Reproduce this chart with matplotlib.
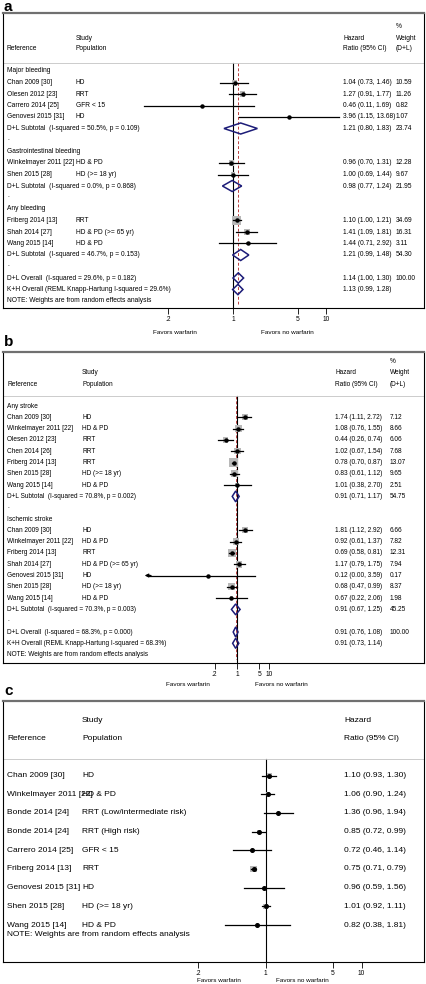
import numpy as np
import matplotlib.pyplot as plt
from matplotlib.patches import Rectangle, Polygon

plt.rcParams['font.family'] = ['Liberation Sans', 'DejaVu Sans']

# ---------------- panel a: bleeding
a_groups = ['Major bleeding', 'Gastrointestinal bleeding', 'Any bleeding']
a_ref = [['Chan 2009 [30]', 'Olesen 2012 [23]', 'Carrero 2014 [25]', 'Genovesi 2015 [31]'],
         ['Winkelmayer 2011 [22]', 'Shen 2015 [28]'],
         ['Friberg 2014 [13]', 'Shah 2014 [27]', 'Wang 2015 [14]']]
a_pop = [['HD', 'RRT', 'GFR < 15', 'HD'],
         ['HD & PD', 'HD (>= 18 yr)'],
         ['RRT', 'HD & PD (>= 65 yr)', 'HD & PD']]
a_hr = [[1.04, 1.27, 0.46, 3.96], [0.96, 1.00], [1.10, 1.41, 1.44]]
a_lo = [[0.73, 0.91, 0.11, 1.15], [0.70, 0.69], [1.00, 1.09, 0.71]]
a_hi = [[1.46, 1.77, 1.69, 13.68], [1.31, 1.44], [1.21, 1.81, 2.92]]
a_w = [[10.59, 11.26, 0.82, 1.07], [12.28, 9.67], [34.69, 16.31, 3.11]]
a_sub_hr = [1.21, 0.98, 1.21]
a_sub_lo = [0.80, 0.77, 0.99]
a_sub_hi = [1.83, 1.24, 1.48]
a_sub_w = [23.74, 21.95, 54.30]
a_sub_i2 = [50.5, 0.0, 46.7]
a_sub_p = [0.109, 0.868, 0.153]
a_all = [1.14, 1.00, 1.30, 100.00, 29.6, 0.182]
a_kh = [1.13, 0.99, 1.28, 29.6]

# ---------------- panel b: stroke
b_groups = ['Any stroke', 'Ischemic stroke']
b_ref = [['Chan 2009 [30]', 'Winkelmayer 2011 [22]', 'Olesen 2012 [23]', 'Chen 2014 [26]',
          'Friberg 2014 [13]', 'Shen 2015 [28]', 'Wang 2015 [14]'],
         ['Chan 2009 [30]', 'Winkelmayer 2011 [22]', 'Friberg 2014 [13]', 'Shah 2014 [27]',
          'Genovesi 2015 [31]', 'Shen 2015 [28]', 'Wang 2015 [14]']]
b_pop = [['HD', 'HD & PD', 'RRT', 'RRT', 'RRT', 'HD (>= 18 yr)', 'HD & PD'],
         ['HD', 'HD & PD', 'RRT', 'HD & PD (>= 65 yr)', 'HD', 'HD (>= 18 yr)', 'HD & PD']]
b_hr = [[1.74, 1.08, 0.44, 1.02, 0.78, 0.83, 1.01], [1.81, 0.92, 0.69, 1.17, 0.12, 0.68, 0.67]]
b_lo = [[1.11, 0.76, 0.26, 0.67, 0.70, 0.61, 0.38], [1.12, 0.61, 0.58, 0.79, 0.00, 0.47, 0.22]]
b_hi = [[2.72, 1.55, 0.74, 1.54, 0.87, 1.12, 2.70], [2.92, 1.37, 0.81, 1.75, 3.59, 0.99, 2.06]]
b_w = [[7.12, 8.66, 6.06, 7.68, 13.07, 9.65, 2.51], [6.66, 7.82, 12.31, 7.94, 0.17, 8.37, 1.98]]
b_sub_hr = [0.91, 0.91]
b_sub_lo = [0.71, 0.67]
b_sub_hi = [1.17, 1.25]
b_sub_w = [54.75, 45.25]
b_sub_i2 = [70.8, 70.3]
b_sub_p = [0.002, 0.003]
b_all = [0.91, 0.76, 1.08, 100.00, 68.3, 0.000]
b_kh = [0.91, 0.73, 1.14, 68.3]
b_axis_min = 0.0013

# ---------------- panel c: mortality
c_ref = ['Chan 2009 [30]', 'Winkelmayer 2011 [22]', 'Bonde 2014 [24]', 'Bonde 2014 [24]',
         'Carrero 2014 [25]', 'Friberg 2014 [13]', 'Genovesi 2015 [31]', 'Shen 2015 [28]',
         'Wang 2015 [14]']
c_pop = ['HD', 'HD & PD', 'RRT (Low/intermediate risk)', 'RRT (High risk)', 'GFR < 15', 'RRT',
         'HD', 'HD (>= 18 yr)', 'HD & PD']
c_hr = [1.10, 1.06, 1.36, 0.85, 0.72, 0.75, 0.96, 1.01, 0.82]
c_lo = [0.93, 0.90, 0.96, 0.72, 0.46, 0.71, 0.59, 0.92, 0.38]
c_hi = [1.30, 1.24, 1.94, 0.99, 1.14, 0.79, 1.56, 1.11, 1.81]
c_w = [14, 14, 6, 14, 4, 30, 4, 22, 3]   # relative box weights

ticks = [0.2, 1, 5, 10]
tick_labels = ['.2', '1', '5', '10']
note = 'NOTE: Weights are from random effects analysis'

W, H = 426, 984
fig = plt.figure(figsize=(W / 100, H / 100), dpi=100)
NAVY = '#1c1c78'
GREY = '#b8b8b8'


def setup(top, bottom, x1, dec, first, step, head_line):
    ax = fig.add_axes([3 / W, 1 - bottom / H, 421 / W, (bottom - top) / H])
    ax.set_xlim((3 - x1) / dec, (424 - x1) / dec)
    ax.set_ylim((bottom - first) / step, (top - first) / step)
    ax.set_yticks([])
    for s in ['left', 'right', 'bottom']:
        ax.spines[s].set_linewidth(0.8)
    ax.spines['top'].set_color('#707070')
    ax.spines['top'].set_linewidth(1.6)
    ax.set_xticks(np.log10(ticks))
    ax.set_xticklabels(tick_labels)
    ax.tick_params(axis='x', direction='out', length=4, width=0.6, labelsize=4.8, pad=1.8)
    fx = lambda px: (px - x1) / dec
    fy = lambda py: (py - first) / step
    ax.axhline(fy(head_line), color='#c4c4c4', lw=0.6)
    ax.plot([0, 0], [fy(head_line), (bottom - first) / step], color='black', lw=0.8, zorder=1)
    return ax, fx, fy


def box_mark(ax, y, hr, lo, hi, w, k, dec, step, ms=2.2, lo_clip=None):
    side = k * np.sqrt(w)
    x = np.log10(hr)
    ax.add_patch(Rectangle((x - side / 2 / dec, y - side / 2 / step), side / dec, side / step,
                           fc=GREY, ec='none', zorder=2))
    xh = np.log10(hi)
    if lo_clip is not None and lo < lo_clip:
        xl = np.log10(lo_clip)
        ax.plot([xl + 0.12, xh], [y, y], color='black', lw=0.9, zorder=3)
        ax.annotate('', xy=(xl, y), xytext=(xl + 0.2, y),
                    arrowprops=dict(arrowstyle='-|>', color='black', lw=0.9,
                                    mutation_scale=5, shrinkA=0, shrinkB=0), zorder=3)
    else:
        ax.plot([np.log10(lo), xh], [y, y], color='black', lw=0.9, zorder=3)
    ax.plot(x, y, 'o', ms=ms, color='black', zorder=4)


def diamond(ax, y, hr, lo, hi, h):
    pts = [[np.log10(lo), y], [np.log10(hr), y - h], [np.log10(hi), y], [np.log10(hr), y + h]]
    ax.add_patch(Polygon(pts, closed=True, fc='none', ec=NAVY, lw=1.1, zorder=4))


def ci_txt(hr, lo, hi):
    return f'{hr:.2f} ({lo:.2f}, {hi:.2f})'


def pooled_panel(geo, groups, ref, pop, hr, lo, hi, w, s_hr, s_lo, s_hi, s_w, s_i2, s_p,
                 allv, kh, lo_clip=None):
    top, bottom, x1, dec, first, step, head_line, heads, cols, fs, k = geo
    ax, fx, fy = setup(top, bottom, x1, dec, first, step, head_line)
    c_ref, c_pop, c_hr, c_w = [fx(c) for c in cols]
    kw = dict(fontsize=fs, va='center', ha='left')
    # header
    ax.text(c_w, fy(heads[0]), '%', **kw)
    ax.text(c_pop, fy(heads[1]), 'Study', **kw)
    ax.text(c_hr, fy(heads[1]), 'Hazard', **kw)
    ax.text(c_w, fy(heads[1]), 'Weight', **kw)
    ax.text(c_ref, fy(heads[2]), 'Reference', **kw)
    ax.text(c_pop, fy(heads[2]), 'Population', **kw)
    ax.text(c_hr, fy(heads[2]), 'Ratio (95% CI)', **kw)
    ax.text(c_w, fy(heads[2]), '(D+L)', **kw)
    row = 0
    for g in range(len(groups)):
        ax.text(c_ref, row, groups[g], **kw)
        row += 1
        for i in range(len(ref[g])):
            ax.text(c_ref, row, ref[g][i], **kw)
            ax.text(c_pop, row, pop[g][i], **kw)
            ax.text(c_hr, row, ci_txt(hr[g][i], lo[g][i], hi[g][i]), **kw)
            ax.text(c_w, row, f'{w[g][i]:.2f}', **kw)
            box_mark(ax, row, hr[g][i], lo[g][i], hi[g][i], w[g][i], k, dec, step, lo_clip=lo_clip)
            row += 1
        ax.text(c_ref, row, f'D+L Subtotal  (I-squared = {s_i2[g]:.1f}%, p = {s_p[g]:.3f})', **kw)
        ax.text(c_hr, row, ci_txt(s_hr[g], s_lo[g], s_hi[g]), **kw)
        ax.text(c_w, row, f'{s_w[g]:.2f}', **kw)
        diamond(ax, row, s_hr[g], s_lo[g], s_hi[g], 0.48)
        row += 1
        ax.text(c_ref, row - 0.15, '.', **kw)
        row += 1
    ax.text(c_ref, row, f'D+L Overall  (I-squared = {allv[4]:.1f}%, p = {allv[5]:.3f})', **kw)
    ax.text(c_hr, row, ci_txt(allv[0], allv[1], allv[2]), **kw)
    ax.text(c_w, row, f'{allv[3]:.2f}', **kw)
    diamond(ax, row, allv[0], allv[1], allv[2], 0.45)
    row += 1
    ax.text(c_ref, row, f'K+H Overall (REML Knapp-Hartung I-squared = {kh[3]:.1f}%)', **kw)
    ax.text(c_hr, row, ci_txt(kh[0], kh[1], kh[2]), **kw)
    diamond(ax, row, kh[0], kh[1], kh[2], 0.45)
    row += 1
    ax.text(c_ref, row, note, **kw)
    ax.plot([np.log10(allv[0])] * 2, [fy(head_line), fy(bottom - 4)], color='#b84040',
            lw=0.7, ls=(0, (3, 2)), zorder=1)
    return ax


def fig_text(x, y, s, **kw):
    fig.text(x / W, 1 - y / H, s, **kw)


# panel a
geo_a = (13, 308, 233, 93, 71, 11.5, 63, (27, 38, 49), (7, 76, 343, 396), 4.8, 1.55)
pooled_panel(geo_a, a_groups, a_ref, a_pop, a_hr, a_lo, a_hi, a_w, a_sub_hr, a_sub_lo, a_sub_hi,
             a_sub_w, a_sub_i2, a_sub_p, a_all, a_kh)
fig_text(4, 11, 'a', fontsize=11, fontweight='bold', va='baseline')
fig_text(175, 332, 'Favors warfarin', fontsize=4.6, ha='center', va='center')
fig_text(261, 332, 'Favors no warfarin', fontsize=4.6, ha='left', va='center')

# panel b
geo_b = (352, 663, 237, 32, 406, 11.3, 396, (361, 372, 384), (7, 82, 335, 390), 4.7, 2.35)
pooled_panel(geo_b, b_groups, b_ref, b_pop, b_hr, b_lo, b_hi, b_w, b_sub_hr, b_sub_lo, b_sub_hi,
             b_sub_w, b_sub_i2, b_sub_p, b_all, b_kh, lo_clip=b_axis_min)
fig_text(4, 346, 'b', fontsize=11, fontweight='bold', va='baseline')
fig_text(188, 685, 'Favors warfarin', fontsize=4.6, ha='center', va='center')
fig_text(255, 685, 'Favors no warfarin', fontsize=4.6, ha='left', va='center')

# panel c
top, bottom, x1, dec, first, step, head_line = 701, 962, 265.5, 96, 775.5, 18.7, 759
ax, fx, fy = setup(top, bottom, x1, dec, first, step, head_line)
kw = dict(fontsize=6.0, va='center', ha='left')
ax.text(fx(82), fy(721), 'Study', **kw)
ax.text(fx(344), fy(721), 'Hazard', **kw)
ax.text(fx(7), fy(739), 'Reference', **kw)
ax.text(fx(82), fy(739), 'Population', **kw)
ax.text(fx(344), fy(739), 'Ratio (95% CI)', **kw)
for i in range(len(c_ref)):
    ax.text(fx(7), i, c_ref[i], **kw)
    ax.text(fx(82), i, c_pop[i], **kw)
    ax.text(fx(344), i, ci_txt(c_hr[i], c_lo[i], c_hi[i]), **kw)
    box_mark(ax, i, c_hr[i], c_lo[i], c_hi[i], c_w[i], 1.1, dec, step, ms=2.6)
ax.text(fx(7), len(c_ref) - 0.5, note, **kw)
fig_text(4, 695, 'c', fontsize=11, fontweight='bold', va='baseline')
fig_text(197, 981, 'Favors warfarin', fontsize=4.6, ha='left', va='center')
fig_text(276, 981, 'Favors no warfarin', fontsize=4.6, ha='left', va='center')

fig.savefig('out.png', dpi=100)
